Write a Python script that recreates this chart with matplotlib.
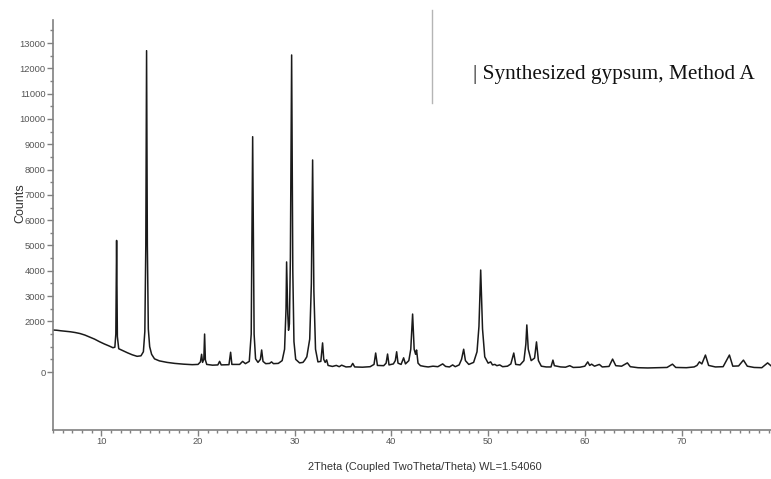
import matplotlib
matplotlib.use("Agg")
import matplotlib.pyplot as plt
from matplotlib.ticker import FixedLocator, MultipleLocator
from matplotlib.lines import Line2D

# diffractogram: 2theta (deg) and counts
two_theta = [
    5.0, 5.4, 5.8, 6.3, 6.8, 7.3, 7.8, 8.3, 8.8, 9.3, 9.8, 10.3, 10.8, 11.2,
    11.4, 11.5, 11.58, 11.66, 11.8, 12.2, 12.7, 13.2, 13.7, 14.1, 14.35, 14.5,
    14.6, 14.68, 14.76, 14.86, 15.0, 15.2, 15.5, 16.0, 16.8, 17.6, 18.5, 19.4,
    20.0, 20.25, 20.37, 20.47, 20.6, 20.68, 20.76, 20.9, 21.5, 22.05, 22.23,
    22.4, 23.2, 23.37, 23.5, 24.3, 24.61, 24.9, 25.3, 25.5, 25.65, 25.8, 25.95,
    26.2, 26.45, 26.58, 26.72, 27.0, 27.4, 27.6, 27.8, 28.3, 28.7, 28.95, 29.1,
    29.16, 29.28, 29.36, 29.45, 29.55, 29.68, 29.8, 29.92, 30.1, 30.5, 30.85,
    31.02, 31.25, 31.55, 31.72, 31.85, 31.98, 32.15, 32.4, 32.7, 32.88, 33.0,
    33.15, 33.3, 33.45, 33.9, 34.3, 34.6, 34.85, 35.3, 35.8, 36.0, 36.2, 37.0,
    37.8, 38.2, 38.37, 38.55, 39.2, 39.45, 39.6, 39.75, 40.2, 40.4, 40.54,
    40.68, 41.0, 41.26, 41.45, 41.8, 42.0, 42.19, 42.35, 42.5, 42.6, 42.75,
    43.0, 43.4, 43.8, 44.3, 44.8, 45.3, 45.6, 46.0, 46.33, 46.6, 47.0, 47.25,
    47.47, 47.65, 48.0, 48.5, 48.85, 49.05, 49.23, 49.42, 49.65, 50.0, 50.26,
    50.45, 50.7, 50.9, 51.2, 51.5, 52.0, 52.35, 52.65, 52.85, 53.3, 53.7, 53.9,
    54.0, 54.15, 54.45, 54.8, 55.0, 55.2, 55.5, 56.0, 56.5, 56.7, 56.85, 57.5,
    58.0, 58.44, 58.8, 59.5, 60.0, 60.3, 60.5, 60.7, 61.0, 61.5, 61.8, 62.5,
    62.87, 63.2, 63.8, 64.4, 64.7, 65.5, 66.5, 67.5, 68.5, 69.06, 69.4, 70.5,
    71.3, 71.6, 71.85, 72.1, 72.47, 72.8, 73.5, 74.3, 74.95, 75.3, 75.9, 76.4,
    76.8, 77.5, 78.3, 78.9, 79.3, 79.8,
]
counts = [
    1660, 1650, 1630, 1610, 1590, 1560, 1520, 1460, 1380, 1300, 1200, 1110, 1030, 960,
    980, 1500, 5200, 1400, 920, 850, 760, 680, 620, 640, 800, 1600,
    5000, 12700, 5000, 1700, 1000, 700, 520, 440, 380, 340, 310, 290,
    300, 400, 700, 380, 500, 1500, 480, 300, 270, 280, 420,
    280, 290, 780, 300, 300, 420, 330, 420, 1500, 9300, 1500, 520,
    380, 500, 870, 420, 330, 340, 400, 330, 340, 450, 900, 2500,
    4350, 2300, 1650, 1900, 4500, 12530, 4000, 1200, 500, 360, 380,
    460, 600, 1300, 3500, 8380, 3200, 900, 400, 420, 1150, 500,
    380, 480, 260, 220, 260, 210, 270, 200, 210, 340, 200, 190,
    210, 300, 750, 260, 250, 350, 710, 280, 320, 450, 800,
    350, 300, 560, 320, 450, 900, 2290, 900, 700, 870, 350,
    250, 220, 200, 230, 210, 320, 220, 200, 280, 210, 280, 500,
    900, 450, 300, 380, 800, 1800, 4030, 1700, 600, 350, 400,
    280, 300, 250, 280, 210, 230, 320, 750, 300, 280, 450, 1100,
    1860, 900, 450, 550, 1190, 450, 230, 200, 200, 470, 250, 200,
    190, 250, 180, 190, 230, 400, 260, 310, 230, 300, 200, 220,
    510, 250, 230, 360, 210, 170, 160, 170, 180, 310, 180, 170,
    200, 260, 400, 320, 670, 260, 200, 210, 670, 230, 240, 470,
    230, 180, 170, 360, 230, 190,
]

y_major = [0, 2000, 3000, 4000, 5000, 6000, 7000, 8000, 9000, 10000, 11000, 12000, 13000]
y_minor = list(range(500, 14000, 500))
x_major = [10, 20, 30, 40, 50, 60, 70, 80]

sample_label = "| Synthesized gypsum, Method A"
x_title = "2Theta (Coupled TwoTheta/Theta) WL=1.54060"

sans = ["Liberation Sans Narrow", "Liberation Sans", "DejaVu Sans"]
grey = "#808080"

fig = plt.figure(figsize=(7.71, 4.79), dpi=100)
ax = fig.add_axes([0.0687, 0.1023, 0.9407, 0.856])

ax.plot(two_theta, counts, color="#1a1a1a", lw=1.1)

ax.set_xlim(5, 80)
ax.set_ylim(-2292, 13913)

for s in ("top", "right"):
    ax.spines[s].set_visible(False)
for s in ("left", "bottom"):
    ax.spines[s].set_color(grey)
    ax.spines[s].set_linewidth(1.2)

ax.xaxis.set_major_locator(FixedLocator(x_major))
ax.xaxis.set_minor_locator(MultipleLocator(1))
ax.yaxis.set_major_locator(FixedLocator(y_major))
ax.yaxis.set_minor_locator(FixedLocator([v for v in y_minor if v not in y_major]))

ax.tick_params(axis="both", which="major", direction="out", color=grey,
               labelcolor="#555555", labelsize=6.7, length=4.3, width=1, pad=1)
ax.tick_params(axis="both", which="minor", direction="out", color=grey,
               length=2.2, width=1)
for lab in ax.get_xticklabels() + ax.get_yticklabels():
    lab.set_family(sans)

fig.text(20 / 771, 1 - 203 / 479, "Counts", rotation=90, ha="center",
         va="center", fontsize=9, family=sans, color="#333333")
fig.text(425 / 771, 1 - 467 / 479, x_title, ha="center", va="center",
         fontsize=7.9, family=sans, color="#333333")

fig.text(473 / 771, 1 - 75 / 479, sample_label, ha="left", va="center",
         fontsize=15.3, family=["Liberation Serif", "DejaVu Serif"], color="#111111")
fig.add_artist(Line2D([432 / 771, 432 / 771], [1 - 10 / 479, 1 - 103 / 479],
                      color="#b5b5b5", lw=1))

fig.savefig("out.png", dpi=100)
